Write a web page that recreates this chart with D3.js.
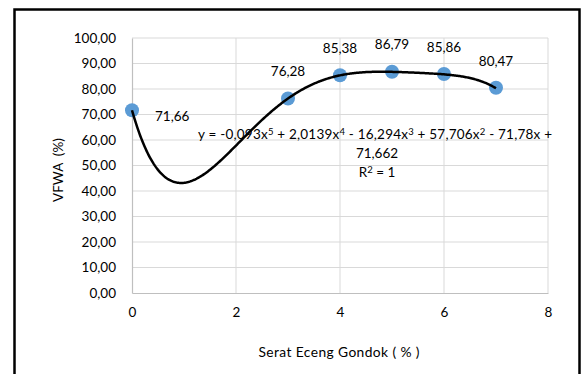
<!DOCTYPE html>
<html><head><meta charset="utf-8">
<script src="https://cdn.jsdelivr.net/npm/d3@7"></script>
<style>html,body{margin:0;padding:0;background:#fff;}</style>
</head><body>
<svg id="c" width="581" height="374"></svg>
<script>
const xValues = [0, 3, 4, 5, 6, 7];
const yValues = [71.66, 76.28, 85.38, 86.79, 85.86, 80.47];
const pointLabels = ["71,66", "76,28", "85,38", "86,79", "85,86", "80,47"];
const xTicks = [0, 2, 4, 6, 8];
const yTicks = [0, 10, 20, 30, 40, 50, 60, 70, 80, 90, 100];
const trendCoefs = [71.662, -71.78, 57.706, -16.294, 2.0139, -0.093]; // c0..c5
const xTitle = "Serat Eceng Gondok ( % )";
const yTitle = "VFWA  (%)";

const svg = d3.select("#c");
const font = "Lato, 'Open Sans', sans-serif";
const fmt = v => v.toFixed(2).replace(".", ",");

svg.append("rect").attr("x", 14.5).attr("y", 9.5).attr("width", 565).attr("height", 420)
  .attr("fill", "#fff").attr("stroke", "#000").attr("stroke-width", 2.5);

const x = d3.scaleLinear().domain([0, 8]).range([132, 548]);
const y = d3.scaleLinear().domain([0, 100]).range([293, 38]);

// grid
svg.append("g").selectAll("line").data(yTicks.slice(1)).join("line")
  .attr("x1", x(0)).attr("x2", x(8)).attr("y1", d => y(d)).attr("y2", d => y(d))
  .attr("stroke", "#d9d9d9").attr("stroke-width", 1);
svg.append("g").selectAll("line").data(xTicks.slice(1)).join("line")
  .attr("y1", y(0)).attr("y2", y(100)).attr("x1", d => x(d)).attr("x2", d => x(d))
  .attr("stroke", "#d9d9d9").attr("stroke-width", 1);

// axes
const yAxis = svg.append("g").attr("transform", `translate(${x(0)},0)`)
  .call(d3.axisLeft(y).tickValues(yTicks).tickFormat(fmt).tickSize(0).tickPadding(16));
const xAxis = svg.append("g").attr("transform", `translate(0,${y(0)})`)
  .call(d3.axisBottom(x).tickValues(xTicks).tickFormat(d3.format("d")).tickSize(0).tickPadding(14));
[xAxis, yAxis].forEach(a => {
  a.select(".domain").attr("stroke", "#bfbfbf").attr("stroke-width", 1.2);
  a.selectAll("text").attr("font-family", font).attr("font-size", 13.5).attr("fill", "#000");
});

// titles
svg.append("text").attr("x", 339).attr("y", 352).attr("dy", "0.35em").attr("text-anchor", "middle")
  .attr("font-family", font).attr("font-size", 13.8).attr("textLength", 161).attr("lengthAdjust", "spacing")
  .text(xTitle);
svg.append("text").attr("transform", "translate(58,170) rotate(-90)").attr("dy", "0.35em")
  .attr("text-anchor", "middle").attr("font-family", font).attr("font-size", 13.5)
  .style("white-space", "pre").text(yTitle);

// points
svg.append("g").selectAll("circle").data(xValues).join("circle")
  .attr("cx", d => x(d)).attr("cy", (d, i) => y(yValues[i])).attr("r", 7)
  .attr("fill", "#5b9bd5");

// trendline
const poly = t => trendCoefs.reduce((s, c, k) => s + c * Math.pow(t, k), 0);
const tData = d3.range(0, 7.0001, 0.02);
svg.append("path").datum(tData)
  .attr("d", d3.line().x(d => x(d)).y(d => y(poly(d))))
  .attr("fill", "none").attr("stroke", "#000").attr("stroke-width", 2.5);

// point labels
svg.append("g").selectAll("text").data(xValues).join("text")
  .attr("x", (d, i) => i === 0 ? x(d) + 23 : x(d))
  .attr("y", (d, i) => i === 0 ? y(yValues[i]) + 6 : y(yValues[i]) - 27)
  .attr("dy", "0.35em")
  .attr("text-anchor", (d, i) => i === 0 ? "start" : "middle")
  .attr("font-family", font).attr("font-size", 13.5).attr("fill", "#000")
  .text((d, i) => pointLabels[i]);

// equation
const eq = svg.append("g").attr("font-family", font).attr("font-size", 13.5).attr("fill", "#000");
const l1 = eq.append("text").attr("x", 375).attr("y", 134).attr("dy", "0.35em").attr("text-anchor", "middle")
  .attr("textLength", 354).attr("lengthAdjust", "spacing");
const parts = [["y = -0,093x", "5"], [" + 2,0139x", "4"], [" - 16,294x", "3"], [" + 57,706x", "2"], [" - 71,78x +", null]];
parts.forEach(([t, s]) => {
  l1.append("tspan").text(t);
  if (s) l1.append("tspan").attr("font-size", 9.5).attr("baseline-shift", "4").text(s);
});
eq.append("text").attr("x", 377).attr("y", 153).attr("dy", "0.35em").attr("text-anchor", "middle").text("71,662");
const l3 = eq.append("text").attr("x", 377).attr("y", 172).attr("dy", "0.35em").attr("text-anchor", "middle");
l3.append("tspan").text("R");
l3.append("tspan").attr("font-size", 9.5).attr("baseline-shift", "4").text("2");
l3.append("tspan").text(" = 1");
</script>
</body></html>
